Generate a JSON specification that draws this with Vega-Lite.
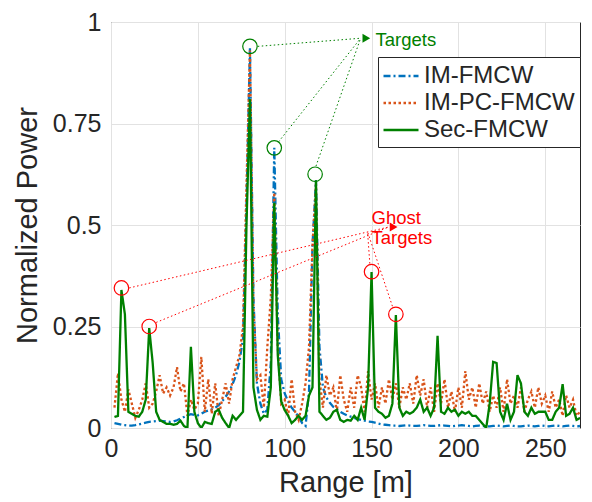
{
  "$schema": "https://vega.github.io/schema/vega-lite/v6.json",
  "autosize": {"type": "none"},
  "width": 469,
  "height": 406,
  "padding": {"left": 111, "top": 22, "right": 12, "bottom": 74},
  "background": "white",
  "config": {
    "font": "Liberation Sans",
    "view": {"stroke": "#262626", "strokeWidth": 1},
    "axis": {
      "labelFont": "Liberation Sans", "titleFont": "Liberation Sans",
      "labelFontSize": 25, "titleFontSize": 29, "titleFontWeight": "normal",
      "labelColor": "#262626", "titleColor": "#262626", "labelFlush": false,
      "gridColor": "#e2e2e2", "gridWidth": 1, "domain": false, "ticks": false
    },
    "legend": {
      "orient": "none", "legendX": 267, "legendY": 35,
      "strokeColor": "#262626", "fillColor": "white", "padding": 5,
      "labelFont": "Liberation Sans", "labelFontSize": 24, "labelColor": "#262626",
      "symbolType": "M-1.4,0L1.4,0", "symbolSize": 625, "symbolOffset": 4, "labelOffset": 9, "rowPadding": 1,
      "title": null
    }
  },
  "datasets": {
    "ann": [
      {"kind": "target", "x": 80, "y": 0.94},
      {"kind": "target", "x": 94, "y": 0.69},
      {"kind": "target", "x": 117.5, "y": 0.625},
      {"kind": "ghost", "x": 6, "y": 0.345},
      {"kind": "ghost", "x": 22, "y": 0.25},
      {"kind": "ghost", "x": 150, "y": 0.385},
      {"kind": "ghost", "x": 164, "y": 0.28}
    ],
    "links": [
      {"kind": "target", "x": 84.5, "y": 0.94, "x2": 143.7, "y2": 0.96},
      {"kind": "target", "x": 96.5, "y": 0.705, "x2": 143.7, "y2": 0.96},
      {"kind": "target", "x": 118, "y": 0.645, "x2": 143.7, "y2": 0.96},
      {"kind": "ghost", "x": 10.5, "y": 0.345, "x2": 159.8, "y2": 0.495},
      {"kind": "ghost", "x": 26, "y": 0.26, "x2": 159.8, "y2": 0.495},
      {"kind": "ghost", "x": 149, "y": 0.405, "x2": 147.7, "y2": 0.483},
      {"kind": "ghost", "x": 162, "y": 0.3, "x2": 147.7, "y2": 0.483}
    ],
    "heads": [
      {"kind": "target", "x": 147, "y": 0.96},
      {"kind": "ghost", "x": 162.7, "y": 0.495}
    ],
    "labels": [
      {"kind": "target", "x": 152.3, "y": 0.956, "t": "Targets"},
      {"kind": "ghost", "x": 150, "y": 0.517, "t": "Ghost"},
      {"kind": "ghost", "x": 150, "y": 0.468, "t": "Targets"}
    ],
    "spec": [
      {"r":2,"IM-FMCW":0.012,"IM-PC-FMCW":0.05,"Sec-FMCW":0.027},
      {"r":4,"IM-FMCW":0.010,"IM-PC-FMCW":0.135,"Sec-FMCW":0.03},
      {"r":6,"IM-FMCW":0.008,"IM-PC-FMCW":0.07,"Sec-FMCW":0.34},
      {"r":8,"IM-FMCW":0.007,"IM-PC-FMCW":0.04,"Sec-FMCW":0.28},
      {"r":10,"IM-FMCW":0.006,"IM-PC-FMCW":0.095,"Sec-FMCW":0.04},
      {"r":12,"IM-FMCW":0.006,"IM-PC-FMCW":0.06,"Sec-FMCW":0.035},
      {"r":14,"IM-FMCW":0.007,"IM-PC-FMCW":0.025,"Sec-FMCW":0.03},
      {"r":16,"IM-FMCW":0.009,"IM-PC-FMCW":0.045,"Sec-FMCW":0.028},
      {"r":18,"IM-FMCW":0.011,"IM-PC-FMCW":0.07,"Sec-FMCW":0.04},
      {"r":20,"IM-FMCW":0.013,"IM-PC-FMCW":0.11,"Sec-FMCW":0.07},
      {"r":22,"IM-FMCW":0.015,"IM-PC-FMCW":0.05,"Sec-FMCW":0.246},
      {"r":24,"IM-FMCW":0.016,"IM-PC-FMCW":0.06,"Sec-FMCW":0.16},
      {"r":26,"IM-FMCW":0.017,"IM-PC-FMCW":0.09,"Sec-FMCW":0.04},
      {"r":28,"IM-FMCW":0.018,"IM-PC-FMCW":0.13,"Sec-FMCW":0.02},
      {"r":30,"IM-FMCW":0.017,"IM-PC-FMCW":0.085,"Sec-FMCW":0.015},
      {"r":32,"IM-FMCW":0.016,"IM-PC-FMCW":0.1,"Sec-FMCW":0.01},
      {"r":34,"IM-FMCW":0.015,"IM-PC-FMCW":0.08,"Sec-FMCW":0.01},
      {"r":36,"IM-FMCW":0.016,"IM-PC-FMCW":0.1,"Sec-FMCW":0.008},
      {"r":38,"IM-FMCW":0.019,"IM-PC-FMCW":0.15,"Sec-FMCW":0.01},
      {"r":40,"IM-FMCW":0.023,"IM-PC-FMCW":0.09,"Sec-FMCW":0.018},
      {"r":42,"IM-FMCW":0.027,"IM-PC-FMCW":0.11,"Sec-FMCW":0.005},
      {"r":44,"IM-FMCW":0.031,"IM-PC-FMCW":0.03,"Sec-FMCW":0.0},
      {"r":46,"IM-FMCW":0.034,"IM-PC-FMCW":0.07,"Sec-FMCW":0.2},
      {"r":48,"IM-FMCW":0.032,"IM-PC-FMCW":0.045,"Sec-FMCW":0.04},
      {"r":50,"IM-FMCW":0.031,"IM-PC-FMCW":0.06,"Sec-FMCW":0.012},
      {"r":52,"IM-FMCW":0.035,"IM-PC-FMCW":0.175,"Sec-FMCW":0.0},
      {"r":54,"IM-FMCW":0.040,"IM-PC-FMCW":0.04,"Sec-FMCW":0.015},
      {"r":56,"IM-FMCW":0.043,"IM-PC-FMCW":0.12,"Sec-FMCW":0.012},
      {"r":58,"IM-FMCW":0.046,"IM-PC-FMCW":0.035,"Sec-FMCW":0.01},
      {"r":60,"IM-FMCW":0.050,"IM-PC-FMCW":0.11,"Sec-FMCW":0.04},
      {"r":62,"IM-FMCW":0.056,"IM-PC-FMCW":0.03,"Sec-FMCW":0.045},
      {"r":64,"IM-FMCW":0.066,"IM-PC-FMCW":0.07,"Sec-FMCW":0.025},
      {"r":66,"IM-FMCW":0.077,"IM-PC-FMCW":0.11,"Sec-FMCW":0.012},
      {"r":68,"IM-FMCW":0.090,"IM-PC-FMCW":0.06,"Sec-FMCW":0.0},
      {"r":70,"IM-FMCW":0.108,"IM-PC-FMCW":0.12,"Sec-FMCW":0.03},
      {"r":72,"IM-FMCW":0.130,"IM-PC-FMCW":0.15,"Sec-FMCW":0.02},
      {"r":74,"IM-FMCW":0.165,"IM-PC-FMCW":0.18,"Sec-FMCW":0.03},
      {"r":76,"IM-FMCW":0.22,"IM-PC-FMCW":0.25,"Sec-FMCW":0.04},
      {"r":78,"IM-FMCW":0.55,"IM-PC-FMCW":0.6,"Sec-FMCW":0.5},
      {"r":80,"IM-FMCW":0.935,"IM-PC-FMCW":0.93,"Sec-FMCW":0.81},
      {"r":82,"IM-FMCW":0.32,"IM-PC-FMCW":0.3,"Sec-FMCW":0.1},
      {"r":84,"IM-FMCW":0.11,"IM-PC-FMCW":0.12,"Sec-FMCW":0.045},
      {"r":86,"IM-FMCW":0.06,"IM-PC-FMCW":0.13,"Sec-FMCW":0.02},
      {"r":88,"IM-FMCW":0.035,"IM-PC-FMCW":0.05,"Sec-FMCW":0.03},
      {"r":90,"IM-FMCW":0.045,"IM-PC-FMCW":0.2,"Sec-FMCW":0.028},
      {"r":92,"IM-FMCW":0.16,"IM-PC-FMCW":0.32,"Sec-FMCW":0.1},
      {"r":94,"IM-FMCW":0.69,"IM-PC-FMCW":0.58,"Sec-FMCW":0.555},
      {"r":96,"IM-FMCW":0.28,"IM-PC-FMCW":0.2,"Sec-FMCW":0.18},
      {"r":98,"IM-FMCW":0.12,"IM-PC-FMCW":0.06,"Sec-FMCW":0.065},
      {"r":100,"IM-FMCW":0.085,"IM-PC-FMCW":0.07,"Sec-FMCW":0.044},
      {"r":102,"IM-FMCW":0.065,"IM-PC-FMCW":0.03,"Sec-FMCW":0.03},
      {"r":104,"IM-FMCW":0.05,"IM-PC-FMCW":0.12,"Sec-FMCW":0.012},
      {"r":106,"IM-FMCW":0.04,"IM-PC-FMCW":0.04,"Sec-FMCW":0.02},
      {"r":108,"IM-FMCW":0.028,"IM-PC-FMCW":0.02,"Sec-FMCW":0.03},
      {"r":110,"IM-FMCW":0.012,"IM-PC-FMCW":0.06,"Sec-FMCW":0.02},
      {"r":112,"IM-FMCW":0.005,"IM-PC-FMCW":0.11,"Sec-FMCW":0.03},
      {"r":114,"IM-FMCW":0.09,"IM-PC-FMCW":0.2,"Sec-FMCW":0.08},
      {"r":116,"IM-FMCW":0.45,"IM-PC-FMCW":0.45,"Sec-FMCW":0.1},
      {"r":118,"IM-FMCW":0.61,"IM-PC-FMCW":0.6,"Sec-FMCW":0.61},
      {"r":120,"IM-FMCW":0.2,"IM-PC-FMCW":0.12,"Sec-FMCW":0.04},
      {"r":122,"IM-FMCW":0.1,"IM-PC-FMCW":0.05,"Sec-FMCW":0.03},
      {"r":124,"IM-FMCW":0.075,"IM-PC-FMCW":0.13,"Sec-FMCW":0.02},
      {"r":126,"IM-FMCW":0.062,"IM-PC-FMCW":0.08,"Sec-FMCW":0.025},
      {"r":128,"IM-FMCW":0.052,"IM-PC-FMCW":0.1,"Sec-FMCW":0.04},
      {"r":130,"IM-FMCW":0.046,"IM-PC-FMCW":0.04,"Sec-FMCW":0.045},
      {"r":132,"IM-FMCW":0.04,"IM-PC-FMCW":0.13,"Sec-FMCW":0.02},
      {"r":134,"IM-FMCW":0.035,"IM-PC-FMCW":0.07,"Sec-FMCW":0.015},
      {"r":136,"IM-FMCW":0.031,"IM-PC-FMCW":0.04,"Sec-FMCW":0.02},
      {"r":138,"IM-FMCW":0.028,"IM-PC-FMCW":0.1,"Sec-FMCW":0.018},
      {"r":140,"IM-FMCW":0.025,"IM-PC-FMCW":0.05,"Sec-FMCW":0.03},
      {"r":142,"IM-FMCW":0.022,"IM-PC-FMCW":0.13,"Sec-FMCW":0.02},
      {"r":144,"IM-FMCW":0.02,"IM-PC-FMCW":0.1,"Sec-FMCW":0.05},
      {"r":146,"IM-FMCW":0.018,"IM-PC-FMCW":0.04,"Sec-FMCW":0.02},
      {"r":148,"IM-FMCW":0.016,"IM-PC-FMCW":0.14,"Sec-FMCW":0.1},
      {"r":150,"IM-FMCW":0.015,"IM-PC-FMCW":0.07,"Sec-FMCW":0.384},
      {"r":152,"IM-FMCW":0.013,"IM-PC-FMCW":0.11,"Sec-FMCW":0.05},
      {"r":154,"IM-FMCW":0.011,"IM-PC-FMCW":0.05,"Sec-FMCW":0.04},
      {"r":156,"IM-FMCW":0.009,"IM-PC-FMCW":0.1,"Sec-FMCW":0.035},
      {"r":158,"IM-FMCW":0.008,"IM-PC-FMCW":0.06,"Sec-FMCW":0.025},
      {"r":160,"IM-FMCW":0.007,"IM-PC-FMCW":0.12,"Sec-FMCW":0.03},
      {"r":162,"IM-FMCW":0.006,"IM-PC-FMCW":0.07,"Sec-FMCW":0.06},
      {"r":164,"IM-FMCW":0.006,"IM-PC-FMCW":0.11,"Sec-FMCW":0.278},
      {"r":166,"IM-FMCW":0.005,"IM-PC-FMCW":0.05,"Sec-FMCW":0.05},
      {"r":168,"IM-FMCW":0.006,"IM-PC-FMCW":0.1,"Sec-FMCW":0.03},
      {"r":170,"IM-FMCW":0.007,"IM-PC-FMCW":0.07,"Sec-FMCW":0.04},
      {"r":172,"IM-FMCW":0.006,"IM-PC-FMCW":0.11,"Sec-FMCW":0.035},
      {"r":174,"IM-FMCW":0.005,"IM-PC-FMCW":0.06,"Sec-FMCW":0.04},
      {"r":176,"IM-FMCW":0.005,"IM-PC-FMCW":0.13,"Sec-FMCW":0.05},
      {"r":178,"IM-FMCW":0.006,"IM-PC-FMCW":0.08,"Sec-FMCW":0.07},
      {"r":180,"IM-FMCW":0.007,"IM-PC-FMCW":0.12,"Sec-FMCW":0.04},
      {"r":182,"IM-FMCW":0.006,"IM-PC-FMCW":0.05,"Sec-FMCW":0.05},
      {"r":184,"IM-FMCW":0.005,"IM-PC-FMCW":0.1,"Sec-FMCW":0.03},
      {"r":186,"IM-FMCW":0.005,"IM-PC-FMCW":0.04,"Sec-FMCW":0.05},
      {"r":188,"IM-FMCW":0.006,"IM-PC-FMCW":0.11,"Sec-FMCW":0.227},
      {"r":190,"IM-FMCW":0.007,"IM-PC-FMCW":0.06,"Sec-FMCW":0.04},
      {"r":192,"IM-FMCW":0.006,"IM-PC-FMCW":0.12,"Sec-FMCW":0.035},
      {"r":194,"IM-FMCW":0.005,"IM-PC-FMCW":0.05,"Sec-FMCW":0.05},
      {"r":196,"IM-FMCW":0.004,"IM-PC-FMCW":0.09,"Sec-FMCW":0.04},
      {"r":198,"IM-FMCW":0.005,"IM-PC-FMCW":0.04,"Sec-FMCW":0.045},
      {"r":200,"IM-FMCW":0.006,"IM-PC-FMCW":0.1,"Sec-FMCW":0.03},
      {"r":202,"IM-FMCW":0.007,"IM-PC-FMCW":0.05,"Sec-FMCW":0.04},
      {"r":204,"IM-FMCW":0.006,"IM-PC-FMCW":0.14,"Sec-FMCW":0.035},
      {"r":206,"IM-FMCW":0.005,"IM-PC-FMCW":0.07,"Sec-FMCW":0.04},
      {"r":208,"IM-FMCW":0.004,"IM-PC-FMCW":0.1,"Sec-FMCW":0.03},
      {"r":210,"IM-FMCW":0.005,"IM-PC-FMCW":0.05,"Sec-FMCW":0.03},
      {"r":212,"IM-FMCW":0.006,"IM-PC-FMCW":0.11,"Sec-FMCW":0.02},
      {"r":214,"IM-FMCW":0.005,"IM-PC-FMCW":0.06,"Sec-FMCW":0.01},
      {"r":216,"IM-FMCW":0.004,"IM-PC-FMCW":0.09,"Sec-FMCW":0.0},
      {"r":218,"IM-FMCW":0.004,"IM-PC-FMCW":0.04,"Sec-FMCW":0.06},
      {"r":220,"IM-FMCW":0.005,"IM-PC-FMCW":0.08,"Sec-FMCW":0.163},
      {"r":222,"IM-FMCW":0.006,"IM-PC-FMCW":0.05,"Sec-FMCW":0.16},
      {"r":224,"IM-FMCW":0.005,"IM-PC-FMCW":0.1,"Sec-FMCW":0.04},
      {"r":226,"IM-FMCW":0.004,"IM-PC-FMCW":0.04,"Sec-FMCW":0.02},
      {"r":228,"IM-FMCW":0.005,"IM-PC-FMCW":0.12,"Sec-FMCW":0.06},
      {"r":230,"IM-FMCW":0.006,"IM-PC-FMCW":0.06,"Sec-FMCW":0.02},
      {"r":232,"IM-FMCW":0.005,"IM-PC-FMCW":0.08,"Sec-FMCW":0.04},
      {"r":234,"IM-FMCW":0.004,"IM-PC-FMCW":0.05,"Sec-FMCW":0.13},
      {"r":236,"IM-FMCW":0.004,"IM-PC-FMCW":0.1,"Sec-FMCW":0.11},
      {"r":238,"IM-FMCW":0.005,"IM-PC-FMCW":0.04,"Sec-FMCW":0.04},
      {"r":240,"IM-FMCW":0.006,"IM-PC-FMCW":0.07,"Sec-FMCW":0.03},
      {"r":242,"IM-FMCW":0.005,"IM-PC-FMCW":0.09,"Sec-FMCW":0.05},
      {"r":244,"IM-FMCW":0.004,"IM-PC-FMCW":0.05,"Sec-FMCW":0.035},
      {"r":246,"IM-FMCW":0.005,"IM-PC-FMCW":0.1,"Sec-FMCW":0.04},
      {"r":248,"IM-FMCW":0.006,"IM-PC-FMCW":0.06,"Sec-FMCW":0.04},
      {"r":250,"IM-FMCW":0.005,"IM-PC-FMCW":0.08,"Sec-FMCW":0.04},
      {"r":252,"IM-FMCW":0.004,"IM-PC-FMCW":0.04,"Sec-FMCW":0.02},
      {"r":254,"IM-FMCW":0.005,"IM-PC-FMCW":0.09,"Sec-FMCW":0.02},
      {"r":256,"IM-FMCW":0.006,"IM-PC-FMCW":0.05,"Sec-FMCW":0.04},
      {"r":258,"IM-FMCW":0.005,"IM-PC-FMCW":0.07,"Sec-FMCW":0.05},
      {"r":260,"IM-FMCW":0.004,"IM-PC-FMCW":0.03,"Sec-FMCW":0.108},
      {"r":262,"IM-FMCW":0.005,"IM-PC-FMCW":0.08,"Sec-FMCW":0.03},
      {"r":264,"IM-FMCW":0.006,"IM-PC-FMCW":0.05,"Sec-FMCW":0.035},
      {"r":266,"IM-FMCW":0.005,"IM-PC-FMCW":0.07,"Sec-FMCW":0.05},
      {"r":268,"IM-FMCW":0.004,"IM-PC-FMCW":0.03,"Sec-FMCW":0.02},
      {"r":270,"IM-FMCW":0.005,"IM-PC-FMCW":0.04,"Sec-FMCW":0.025}
    ]
  },
  "layer": [
    {
      "data": {"name": "spec"},
      "transform": [{"fold": ["IM-FMCW", "IM-PC-FMCW", "Sec-FMCW"], "as": ["series", "p"]}],
      "mark": {"type": "line", "strokeCap": "butt", "clip": true},
      "encoding": {
        "x": {"field": "r", "type": "quantitative",
              "scale": {"domain": [0, 270], "nice": false},
              "axis": {"values": [0, 50, 100, 150, 200, 250], "title": "Range [m]", "labelPadding": 8, "titlePadding": 7}},
        "y": {"field": "p", "type": "quantitative",
              "scale": {"domain": [0, 1], "nice": false},
              "axis": {"values": [0, 0.25, 0.5, 0.75, 1], "labelExpr": "'' + datum.value", "title": "Normalized Power", "labelPadding": 10, "titlePadding": 10}},
        "color": {"field": "series", "type": "nominal",
                  "scale": {"domain": ["IM-FMCW", "IM-PC-FMCW", "Sec-FMCW"], "range": ["#0072BD", "#D95319", "#008000"]}},
        "strokeDash": {"field": "series", "type": "nominal",
                  "scale": {"domain": ["IM-FMCW", "IM-PC-FMCW", "Sec-FMCW"], "range": [[7, 3, 2, 3], [2.5, 2.5], [1, 0]]}},
        "strokeWidth": {"field": "series", "type": "nominal",
                  "scale": {"domain": ["IM-FMCW", "IM-PC-FMCW", "Sec-FMCW"], "range": [2.3, 2.3, 2.8]}}
      }
    },
    {
      "data": {"name": "links"},
      "transform": [{"filter": "datum.kind === 'target'"}],
      "mark": {"type": "rule", "color": "#008000", "strokeWidth": 1, "strokeDash": [1.5, 2.5]},
      "encoding": {
        "x": {"field": "x", "type": "quantitative"}, "y": {"field": "y", "type": "quantitative"},
        "x2": {"field": "x2"}, "y2": {"field": "y2"}
      }
    },
    {
      "data": {"name": "links"},
      "transform": [{"filter": "datum.kind === 'ghost'"}],
      "mark": {"type": "rule", "color": "#FF0000", "strokeWidth": 1, "strokeDash": [1.5, 2.5]},
      "encoding": {
        "x": {"field": "x", "type": "quantitative"}, "y": {"field": "y", "type": "quantitative"},
        "x2": {"field": "x2"}, "y2": {"field": "y2"}
      }
    },
    {
      "data": {"name": "ann"},
      "transform": [{"filter": "datum.kind === 'target'"}],
      "mark": {"type": "point", "shape": "circle", "filled": false, "color": "#008000", "size": 210, "strokeWidth": 1.2, "opacity": 1},
      "encoding": {"x": {"field": "x", "type": "quantitative"}, "y": {"field": "y", "type": "quantitative"}}
    },
    {
      "data": {"name": "ann"},
      "transform": [{"filter": "datum.kind === 'ghost'"}],
      "mark": {"type": "point", "shape": "circle", "filled": false, "color": "#FF0000", "size": 210, "strokeWidth": 1.2, "opacity": 1},
      "encoding": {"x": {"field": "x", "type": "quantitative"}, "y": {"field": "y", "type": "quantitative"}}
    },
    {
      "data": {"name": "heads"},
      "transform": [{"filter": "datum.kind === 'target'"}],
      "mark": {"type": "point", "shape": "triangle-right", "filled": true, "color": "#008000", "size": 80, "opacity": 1},
      "encoding": {"x": {"field": "x", "type": "quantitative"}, "y": {"field": "y", "type": "quantitative"}}
    },
    {
      "data": {"name": "heads"},
      "transform": [{"filter": "datum.kind === 'ghost'"}],
      "mark": {"type": "point", "shape": "triangle-right", "filled": true, "color": "#FF0000", "size": 80, "opacity": 1},
      "encoding": {"x": {"field": "x", "type": "quantitative"}, "y": {"field": "y", "type": "quantitative"}}
    },
    {
      "data": {"name": "labels"},
      "transform": [{"filter": "datum.kind === 'target'"}],
      "mark": {"type": "text", "align": "left", "baseline": "middle", "color": "#008000", "fontSize": 18.5, "font": "Liberation Sans"},
      "encoding": {"x": {"field": "x", "type": "quantitative"}, "y": {"field": "y", "type": "quantitative"}, "text": {"field": "t"}}
    },
    {
      "data": {"name": "labels"},
      "transform": [{"filter": "datum.kind === 'ghost'"}],
      "mark": {"type": "text", "align": "left", "baseline": "middle", "color": "#FF0000", "fontSize": 18.5, "font": "Liberation Sans"},
      "encoding": {"x": {"field": "x", "type": "quantitative"}, "y": {"field": "y", "type": "quantitative"}, "text": {"field": "t"}}
    }
  ]
}
